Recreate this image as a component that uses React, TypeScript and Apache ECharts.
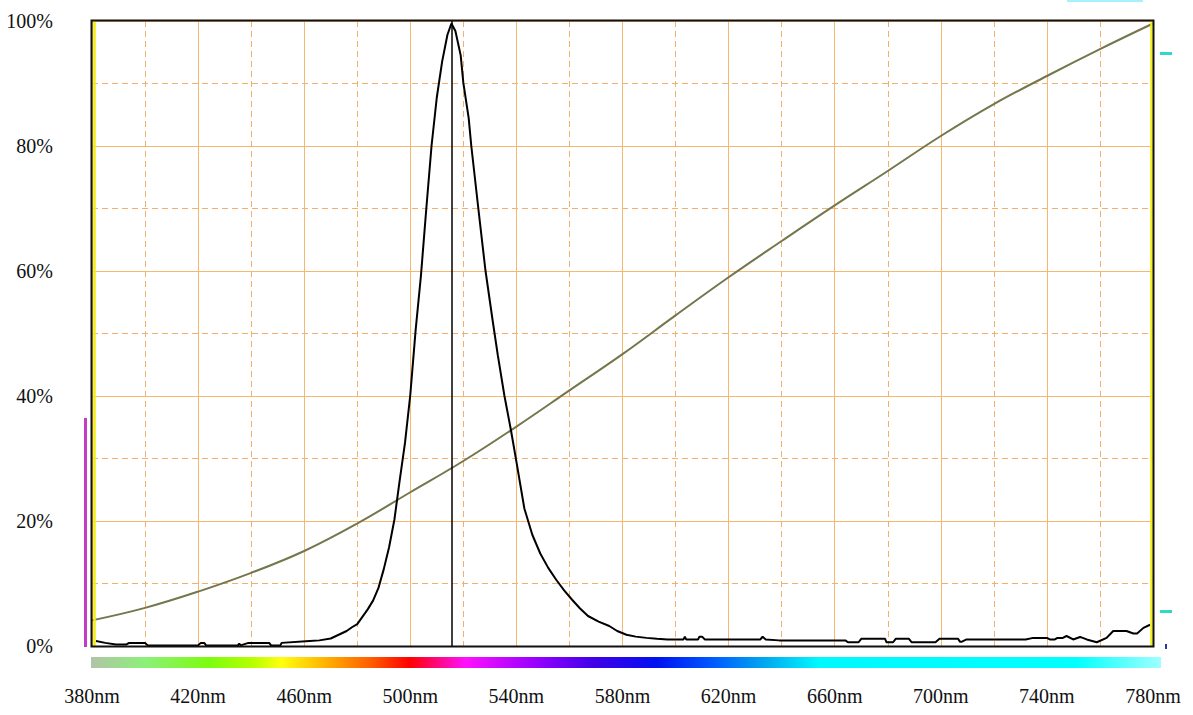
import React, { useEffect, useRef } from "react";
import * as echarts from "echarts";

// Measured spectrum: [wavelength nm, relative intensity %]
const spectrum: [number, number][] = [
  [381.5, 0.8], [385, 0.5], [389, 0.25], [393, 0.25], [394, 0.5], [400, 0.5],
  [401, 0.1], [420, 0.1], [421, 0.5], [422.3, 0.5], [423, 0.1], [435, 0.1],
  [435.5, 0.4], [436, 0.1], [439, 0.5], [446.8, 0.5], [447.5, 0.1], [451, 0.1],
  [451.5, 0.5], [462, 0.8], [465.7, 0.9], [470, 1.2], [472, 1.6], [474, 2.0],
  [476, 2.4], [478, 3.0], [480, 3.5], [482, 4.7], [484, 5.9], [486, 7.3],
  [488, 9.3], [490, 12.3], [492, 15.8], [494, 20.2], [496, 26.5], [498, 32.5],
  [500, 40.2], [502, 50.5], [504, 59.2], [506, 69.8], [508, 80.0], [510, 87.8],
  [512, 93.5], [514, 97.8], [515.5, 99.6], [517, 98.4], [519, 94.5], [520, 90.1],
  [522, 84.5], [523, 80], [525.7, 69.8], [528.3, 60.2], [531, 52.2], [533, 46.5],
  [535.5, 40], [538, 34.4], [540, 29.5], [543, 22], [546, 17.8], [549, 14.8],
  [552, 12.5], [555, 10.6], [558, 8.9], [561, 7.4], [564, 6.0], [567, 4.8],
  [571, 3.9], [575, 3.2], [578, 2.4], [581.5, 1.8], [585, 1.5], [589, 1.3],
  [593, 1.15], [597, 1.05], [603, 1.05], [603.5, 1.5], [604, 1.05], [608.5, 1.05],
  [609, 1.5], [610, 1.5], [611, 1.05], [632, 1.05], [632.8, 1.5], [634, 1.05],
  [639, 0.9], [664, 0.9], [665, 0.6], [669, 0.6], [670, 1.15], [679, 1.15],
  [679.5, 0.6], [682, 0.6], [683, 1.15], [688, 1.15], [689, 0.6], [698, 0.6],
  [699.5, 1.15], [706.5, 1.15], [707.2, 0.7], [708, 0.7], [709.7, 1.05], [732, 1.05],
  [734.8, 1.3], [740, 1.3], [741.1, 1.05], [743, 1.05], [744, 1.3], [746, 1.3],
  [747.4, 1.6], [749.9, 1.05], [752.5, 1.45], [755, 1.05], [758.8, 0.6], [762.5, 1.3],
  [765, 2.4], [770, 2.4], [772.6, 2.0], [774, 2.0], [776.4, 2.9], [778.9, 3.4],
];

// Reference (olive) curve
const refNm = [380, 400, 420, 440, 460, 480, 500, 520, 540, 560, 580, 600, 620, 640, 660, 680, 700, 720, 740, 760, 780];
const refPct = [4.1, 6.1, 8.7, 11.7, 15.2, 19.6, 24.6, 29.6, 35.1, 40.9, 46.7, 52.9, 59.0, 64.8, 70.5, 76.0, 81.6, 86.7, 91.2, 95.5, 99.6];

const peakNm = 515.5;
const xMin = 380;
const xMax = 780;
const yMin = 0;
const yMax = 100;

const FONT = "'Liberation Serif', 'DejaVu Serif', serif";
const SOLID = "#f5b870";
const DASH = "#f2b070";
const NONE = "rgba(0,0,0,0)";

export default function App() {
  const ref = useRef<HTMLDivElement>(null);
  useEffect(() => {
    document.body.style.margin = "0";
    if (!ref.current) return;
    const chart = echarts.init(ref.current, null, { renderer: "svg" });
    const labelStyle = { fontFamily: FONT, fontSize: 20, color: "#111" };
    chart.setOption({
      animation: false,
      backgroundColor: "#fff",
      grid: { left: 92, right: 40, top: 21, bottom: 69, show: false },
      xAxis: [
        {
          type: "value", min: xMin, max: xMax, interval: 20, position: "bottom",
          axisLine: { show: false }, axisTick: { show: false },
          axisLabel: {
            ...labelStyle, margin: 40, showMinLabel: true, showMaxLabel: true,
            formatter: (v: number) => (Math.round(v - xMin) % 40 === 0 ? `${Math.round(v)}nm` : ""),
          },
          splitLine: {
            show: true, showMinLine: true, showMaxLine: true,
            lineStyle: { color: [SOLID, NONE], width: 1, type: "solid" },
          },
        },
        {
          type: "value", min: xMin, max: xMax, interval: 20, position: "top",
          axisLine: { show: false }, axisTick: { show: false }, axisLabel: { show: false },
          splitLine: {
            show: true, showMinLine: true, showMaxLine: true,
            lineStyle: { color: [NONE, DASH], width: 1, type: [6, 4] },
          },
        },
      ],
      yAxis: {
        type: "value", min: yMin, max: yMax, interval: 20,
        axisLine: { show: false }, axisTick: { show: false },
        axisLabel: { ...labelStyle, margin: 39, formatter: "{value}%" },
        splitLine: { show: true, lineStyle: { color: SOLID, width: 1 } },
        minorTick: { show: false, splitNumber: 2 },
        minorSplitLine: { show: true, lineStyle: { color: DASH, width: 1, type: [6, 4] } },
      },
      series: [
        {
          type: "line", xAxisIndex: 0, data: refNm.map((n, i) => [n, refPct[i]]),
          smooth: 0.4, symbol: "none", silent: true, z: 3,
          lineStyle: { color: "#74764c", width: 2 },
          markLine: {
            silent: true, symbol: ["none", "none"], label: { show: false },
            data: [
              { xAxis: 380.7, lineStyle: { color: "#f2ee10", width: 2.5, type: "solid" } },
              { xAxis: 779.3, lineStyle: { color: "#f2ee10", width: 2.5, type: "solid" } },
            ],
          },
        },
        {
          type: "line", xAxisIndex: 0, data: spectrum, symbol: "none", silent: true, z: 4,
          lineStyle: { color: "#000", width: 2 },
          markLine: {
            silent: true, symbol: ["none", "none"], label: { show: false },
            data: [{ xAxis: peakNm, lineStyle: { color: "#000", width: 1.5, type: "solid" } }],
          },
        },
      ],
      graphic: [
        {
          type: "rect", z: 100, silent: true, shape: { x: 91.5, y: 20.5, width: 1062, height: 626 },
          style: { fill: "none", stroke: "#111", lineWidth: 2 },
        },
        {
          type: "rect", z: 10, shape: { x: 91, y: 657, width: 1070, height: 11 },
          style: {
            fill: new echarts.graphic.LinearGradient(0, 0, 1, 0, [
              { offset: 0.0, color: "#b0c4a8" },
              { offset: 0.05, color: "#8cf07a" },
              { offset: 0.11, color: "#7cfc10" },
              { offset: 0.15, color: "#b4ff00" },
              { offset: 0.178, color: "#ffff10" },
              { offset: 0.22, color: "#ffb000" },
              { offset: 0.26, color: "#ff6000" },
              { offset: 0.298, color: "#ff0000" },
              { offset: 0.35, color: "#ff10ff" },
              { offset: 0.42, color: "#9000ff" },
              { offset: 0.47, color: "#4000e8" },
              { offset: 0.528, color: "#0010f0" },
              { offset: 0.58, color: "#0058ff" },
              { offset: 0.63, color: "#00a8f0" },
              { offset: 0.68, color: "#00f8ff" },
              { offset: 0.92, color: "#00ffff" },
              { offset: 1.0, color: "#a0ffff" },
            ]),
          },
        },
        { type: "rect", z: 10, shape: { x: 84, y: 418, width: 3, height: 229 }, style: { fill: "#c43cc4" } },
        { type: "rect", z: 10, shape: { x: 1160, y: 52, width: 12, height: 3 }, style: { fill: "#30d8c8" } },
        { type: "rect", z: 10, shape: { x: 1160, y: 610, width: 12, height: 3 }, style: { fill: "#30d8c8" } },
        { type: "rect", z: 10, shape: { x: 1165, y: 644, width: 2, height: 5 }, style: { fill: "#2a3aa0" } },
        { type: "rect", z: 10, shape: { x: 1067, y: 0, width: 76, height: 2 }, style: { fill: "#a8f0ff" } },
      ],
    });
    return () => chart.dispose();
  }, []);
  return <div ref={ref} style={{ width: 1193, height: 715 }} />;
}
